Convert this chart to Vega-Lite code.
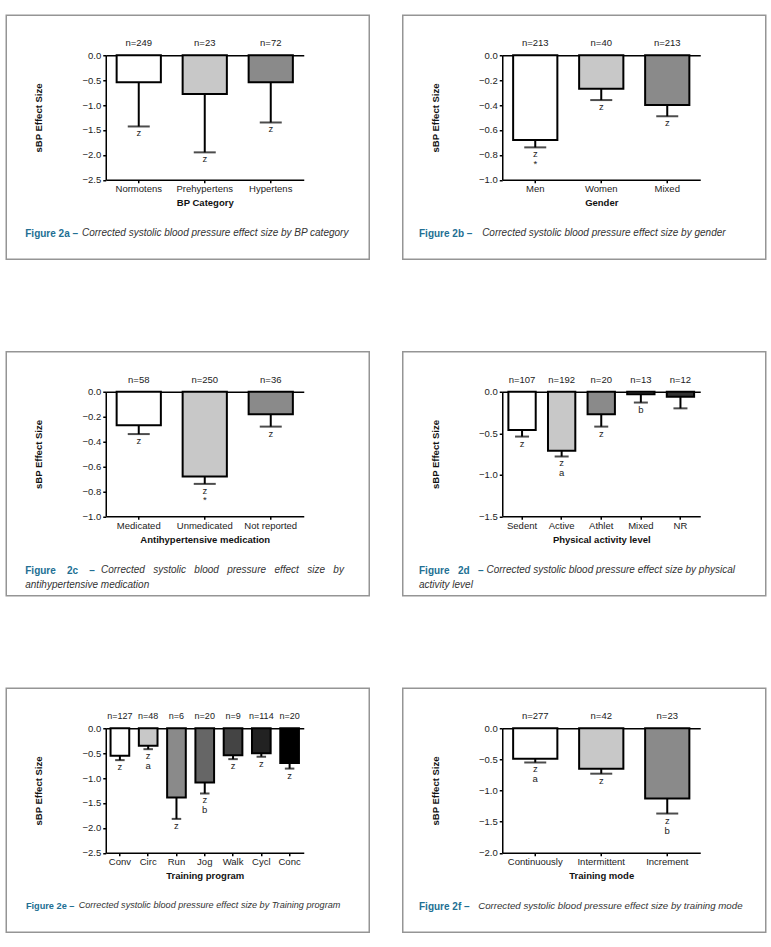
{
"$schema": "https://vega.github.io/schema/vega-lite/v6.json",
"background": "white",
"padding": {"left": 5.25, "top": 14.25, "right": 0, "bottom": 0},
"config": {
  "font": "Liberation Sans",
  "view": {"stroke": "#959595", "strokeWidth": 1.5},
  "axis": {"domainColor": "black", "domainWidth": 1.5, "tickColor": "black", "tickWidth": 1.5, "tickSize": 3, "labelFont": "Liberation Sans", "labelFontSize": 9.5, "labelColor": "#222", "titleFont": "Liberation Sans", "titleFontSize": 9.5, "titleFontWeight": "bold", "titleColor": "#111", "grid": false},
  "axisX": {"labelPadding": 1, "titlePadding": 4.5, "labelAngle": 0},
  "axisY": {"labelPadding": 2, "titlePadding": 38},
  "title": {"font": "Liberation Sans"}
},
"spacing": 90.5,
"resolve": {"scale": {"fill": "independent"}},
"vconcat": [
{"hconcat": [
 {"hconcat": [{
   "width": 363, "height": 244,
   "title": {"text": "Corrected systolic blood pressure effect size by BP category", "orient": "bottom", "anchor": "start", "frame": "bounds", "offset": -31, "dx": 75.75, "fontSize": 10, "fontStyle": "italic", "fontWeight": "normal", "color": "#333"},
   "data": {"values": [
     {"c": "Normotens", "v": -0.54, "e": -1.43, "n": "n=249", "lab": "z"},
     {"c": "Prehypertens", "v": -0.78, "e": -1.95, "n": "n=23", "lab": "z"},
     {"c": "Hypertens", "v": -0.54, "e": -1.35, "n": "n=72", "lab": "z"}
   ]},
   "layer": [
     {"mark": {"type": "bar", "stroke": "black", "strokeWidth": 2},
      "encoding": {
        "x": {"field": "c", "type": "nominal", "sort": null, "scale": {"range": [99.5, 297.5], "paddingInner": 0.33, "paddingOuter": 0.165}, "axis": {"orient": "bottom", "offset": -79.5, "title": "BP Category", "labelOverlap": false}},
        "y": {"field": "v", "type": "quantitative", "scale": {"domain": [-2.5, 0], "range": [164.5, 40], "nice": false, "zero": false}, "axis": {"orient": "left", "offset": -99.5, "title": "sBP Effect Size", "values": [0, -0.5, -1, -1.5, -2, -2.5], "format": ".1f", "grid": true, "gridColor": "black", "gridWidth": 1.5, "gridOpacity": {"condition": {"test": "datum.value === 0", "value": 1}, "value": 0}}},
        "fill": {"field": "c", "type": "nominal", "sort": null, "scale": {"range": ["#ffffff", "#c8c8c8", "#8a8a8a"]}, "legend": null}}},
     {"mark": {"type": "rule", "color": "black", "strokeWidth": 2},
      "encoding": {"x": {"field": "c", "type": "nominal", "sort": null}, "y": {"field": "v", "type": "quantitative"}, "y2": {"field": "e"}}},
     {"mark": {"type": "tick", "color": "black", "thickness": 2, "size": 22},
      "encoding": {"x": {"field": "c", "type": "nominal", "sort": null}, "y": {"field": "e", "type": "quantitative"}}},
     {"mark": {"type": "text", "baseline": "top", "dy": 2, "fontSize": 9.5, "color": "#222", "lineBreak": "\n", "lineHeight": 9.5},
      "encoding": {"x": {"field": "c", "type": "nominal", "sort": null}, "y": {"field": "e", "type": "quantitative"}, "text": {"field": "lab"}}},
     {"mark": {"type": "text", "baseline": "middle", "dy": -12, "fontSize": 9.5, "color": "#222"},
      "encoding": {"x": {"field": "c", "type": "nominal", "sort": null}, "y": {"datum": 0, "type": "quantitative"}, "text": {"field": "n"}}}
   ]}],
  "title": {"text": "Figure 2a –", "orient": "bottom", "anchor": "start", "frame": "bounds", "offset": -31, "dx": 19.75, "fontSize": 10, "fontWeight": "bold", "color": "#226f93"}
 },
 {"hconcat": [{
   "width": 363, "height": 244,
   "title": {"text": "Corrected systolic blood pressure effect size by gender", "orient": "bottom", "anchor": "start", "frame": "bounds", "offset": -31, "dx": 79.4, "fontSize": 10, "fontStyle": "italic", "fontWeight": "normal", "color": "#333"},
   "data": {"values": [
     {"c": "Men", "v": -0.68, "e": -0.74, "n": "n=213", "lab": "z\n*"},
     {"c": "Women", "v": -0.27, "e": -0.36, "n": "n=40", "lab": "z"},
     {"c": "Mixed", "v": -0.40, "e": -0.49, "n": "n=213", "lab": "z"}
   ]},
   "layer": [
     {"mark": {"type": "bar", "stroke": "black", "strokeWidth": 2},
      "encoding": {
        "x": {"field": "c", "type": "nominal", "sort": null, "scale": {"range": [99.5, 297.5], "paddingInner": 0.33, "paddingOuter": 0.165}, "axis": {"orient": "bottom", "offset": -79.5, "title": "Gender", "labelOverlap": false}},
        "y": {"field": "v", "type": "quantitative", "scale": {"domain": [-1, 0], "range": [164.5, 40], "nice": false, "zero": false}, "axis": {"orient": "left", "offset": -99.5, "title": "sBP Effect Size", "values": [0, -0.2, -0.4, -0.6, -0.8, -1], "format": ".1f", "grid": true, "gridColor": "black", "gridWidth": 1.5, "gridOpacity": {"condition": {"test": "datum.value === 0", "value": 1}, "value": 0}}},
        "fill": {"field": "c", "type": "nominal", "sort": null, "scale": {"range": ["#ffffff", "#c8c8c8", "#8a8a8a"]}, "legend": null}}},
     {"mark": {"type": "rule", "color": "black", "strokeWidth": 2},
      "encoding": {"x": {"field": "c", "type": "nominal", "sort": null}, "y": {"field": "v", "type": "quantitative"}, "y2": {"field": "e"}}},
     {"mark": {"type": "tick", "color": "black", "thickness": 2, "size": 22},
      "encoding": {"x": {"field": "c", "type": "nominal", "sort": null}, "y": {"field": "e", "type": "quantitative"}}},
     {"mark": {"type": "text", "baseline": "top", "dy": 2, "fontSize": 9.5, "color": "#222", "lineBreak": "\n", "lineHeight": 9.5},
      "encoding": {"x": {"field": "c", "type": "nominal", "sort": null}, "y": {"field": "e", "type": "quantitative"}, "text": {"field": "lab"}}},
     {"mark": {"type": "text", "baseline": "middle", "dy": -12, "fontSize": 9.5, "color": "#222"},
      "encoding": {"x": {"field": "c", "type": "nominal", "sort": null}, "y": {"datum": 0, "type": "quantitative"}, "text": {"field": "n"}}}
   ]}],
  "title": {"text": "Figure 2b –", "orient": "bottom", "anchor": "start", "frame": "bounds", "offset": -31, "dx": 17, "fontSize": 10, "fontWeight": "bold", "color": "#226f93"}
 }
], "spacing": 31.5, "resolve": {"scale": {"fill": "independent"}}},
{"hconcat": [
 {"hconcat": [{
   "width": 363, "height": 244,
   "title": {"text": "Corrected \u00a0\u00a0systolic \u00a0\u00a0blood \u00a0\u00a0pressure \u00a0\u00a0effect \u00a0\u00a0size \u00a0\u00a0by", "orient": "bottom", "anchor": "start", "frame": "bounds", "offset": -31, "dx": 94.75, "fontSize": 10, "fontStyle": "italic", "fontWeight": "normal", "color": "#333"},
   "data": {"values": [
     {"c": "Medicated", "v": -0.27, "e": -0.34, "n": "n=58", "lab": "z"},
     {"c": "Unmedicated", "v": -0.68, "e": -0.74, "n": "n=250", "lab": "z\n*"},
     {"c": "Not reported", "v": -0.18, "e": -0.28, "n": "n=36", "lab": "z"}
   ]},
   "layer": [
     {"mark": {"type": "bar", "stroke": "black", "strokeWidth": 2},
      "encoding": {
        "x": {"field": "c", "type": "nominal", "sort": null, "scale": {"range": [99.5, 297.5], "paddingInner": 0.33, "paddingOuter": 0.165}, "axis": {"orient": "bottom", "offset": -79.5, "title": "Antihypertensive medication", "labelOverlap": false}},
        "y": {"field": "v", "type": "quantitative", "scale": {"domain": [-1, 0], "range": [164.5, 40], "nice": false, "zero": false}, "axis": {"orient": "left", "offset": -99.5, "title": "sBP Effect Size", "values": [0, -0.2, -0.4, -0.6, -0.8, -1], "format": ".1f", "grid": true, "gridColor": "black", "gridWidth": 1.5, "gridOpacity": {"condition": {"test": "datum.value === 0", "value": 1}, "value": 0}}},
        "fill": {"field": "c", "type": "nominal", "sort": null, "scale": {"range": ["#ffffff", "#c8c8c8", "#8a8a8a"]}, "legend": null}}},
     {"mark": {"type": "rule", "color": "black", "strokeWidth": 2},
      "encoding": {"x": {"field": "c", "type": "nominal", "sort": null}, "y": {"field": "v", "type": "quantitative"}, "y2": {"field": "e"}}},
     {"mark": {"type": "tick", "color": "black", "thickness": 2, "size": 22},
      "encoding": {"x": {"field": "c", "type": "nominal", "sort": null}, "y": {"field": "e", "type": "quantitative"}}},
     {"mark": {"type": "text", "baseline": "top", "dy": 2, "fontSize": 9.5, "color": "#222", "lineBreak": "\n", "lineHeight": 9.5},
      "encoding": {"x": {"field": "c", "type": "nominal", "sort": null}, "y": {"field": "e", "type": "quantitative"}, "text": {"field": "lab"}}},
     {"mark": {"type": "text", "baseline": "middle", "dy": -12, "fontSize": 9.5, "color": "#222"},
      "encoding": {"x": {"field": "c", "type": "nominal", "sort": null}, "y": {"datum": 0, "type": "quantitative"}, "text": {"field": "n"}}}
   ]}],
  "title": {"text": "Figure \u00a0\u00a0\u00a02c \u00a0\u00a0\u00a0–", "subtitle": "antihypertensive medication", "orient": "bottom", "anchor": "start", "frame": "bounds", "offset": -31, "dx": 19.75, "fontSize": 10, "fontWeight": "bold", "color": "#226f93", "subtitleFontSize": 10, "subtitleFontStyle": "italic", "subtitleColor": "#333", "subtitlePadding": 4}
 },
 {"hconcat": [{
   "width": 363, "height": 244,
   "title": {"text": "Corrected systolic blood pressure effect size by physical", "orient": "bottom", "anchor": "start", "frame": "bounds", "offset": -31, "dx": 83.75, "fontSize": 10, "fontStyle": "italic", "fontWeight": "normal", "color": "#333"},
   "data": {"values": [
     {"c": "Sedent", "v": -0.46, "e": -0.54, "n": "n=107", "lab": "z"},
     {"c": "Active", "v": -0.71, "e": -0.78, "n": "n=192", "lab": "z\na"},
     {"c": "Athlet", "v": -0.27, "e": -0.42, "n": "n=20", "lab": "z"},
     {"c": "Mixed", "v": -0.03, "e": -0.13, "n": "n=13", "lab": "b"},
     {"c": "NR", "v": -0.06, "e": -0.20, "n": "n=12", "lab": ""}
   ]},
   "layer": [
     {"mark": {"type": "bar", "stroke": "black", "strokeWidth": 2},
      "encoding": {
        "x": {"field": "c", "type": "nominal", "sort": null, "scale": {"range": [99.5, 297.5], "paddingInner": 0.31, "paddingOuter": 0.155}, "axis": {"orient": "bottom", "offset": -79.5, "title": "Physical activity level", "labelOverlap": false}},
        "y": {"field": "v", "type": "quantitative", "scale": {"domain": [-1.5, 0], "range": [164.5, 40], "nice": false, "zero": false}, "axis": {"orient": "left", "offset": -99.5, "title": "sBP Effect Size", "values": [0, -0.5, -1, -1.5], "format": ".1f", "grid": true, "gridColor": "black", "gridWidth": 1.5, "gridOpacity": {"condition": {"test": "datum.value === 0", "value": 1}, "value": 0}}},
        "fill": {"field": "c", "type": "nominal", "sort": null, "scale": {"range": ["#ffffff", "#c8c8c8", "#8a8a8a", "#555555", "#333333"]}, "legend": null}}},
     {"mark": {"type": "rule", "color": "black", "strokeWidth": 2},
      "encoding": {"x": {"field": "c", "type": "nominal", "sort": null}, "y": {"field": "v", "type": "quantitative"}, "y2": {"field": "e"}}},
     {"mark": {"type": "tick", "color": "black", "thickness": 2, "size": 14},
      "encoding": {"x": {"field": "c", "type": "nominal", "sort": null}, "y": {"field": "e", "type": "quantitative"}}},
     {"mark": {"type": "text", "baseline": "top", "dy": 2, "fontSize": 9.5, "color": "#222", "lineBreak": "\n", "lineHeight": 10},
      "encoding": {"x": {"field": "c", "type": "nominal", "sort": null}, "y": {"field": "e", "type": "quantitative"}, "text": {"field": "lab"}}},
     {"mark": {"type": "text", "baseline": "middle", "dy": -12, "fontSize": 9.5, "color": "#222"},
      "encoding": {"x": {"field": "c", "type": "nominal", "sort": null}, "y": {"datum": 0, "type": "quantitative"}, "text": {"field": "n"}}}
   ]}],
  "title": {"text": "Figure \u00a0\u00a02d \u00a0\u00a0–", "subtitle": "activity level", "orient": "bottom", "anchor": "start", "frame": "bounds", "offset": -31, "dx": 17, "fontSize": 10, "fontWeight": "bold", "color": "#226f93", "subtitleFontSize": 10, "subtitleFontStyle": "italic", "subtitleColor": "#333", "subtitlePadding": 4}
 }
], "spacing": 31.5, "resolve": {"scale": {"fill": "independent"}}},
{"hconcat": [
 {"hconcat": [{
   "width": 363, "height": 244,
   "title": {"text": "Corrected systolic blood pressure effect size by Training program", "orient": "bottom", "anchor": "start", "frame": "bounds", "offset": -31, "dx": 72.4, "fontSize": 9.1, "fontStyle": "italic", "fontWeight": "normal", "color": "#333"},
   "data": {"values": [
     {"c": "Conv", "v": -0.55, "e": -0.64, "n": "n=127", "lab": "z"},
     {"c": "Circ", "v": -0.35, "e": -0.42, "n": "n=48", "lab": "z\na"},
     {"c": "Run", "v": -1.39, "e": -1.82, "n": "n=6", "lab": "z"},
     {"c": "Jog", "v": -1.09, "e": -1.31, "n": "n=20", "lab": "z\nb"},
     {"c": "Walk", "v": -0.54, "e": -0.62, "n": "n=9", "lab": "z"},
     {"c": "Cycl", "v": -0.50, "e": -0.57, "n": "n=114", "lab": "z"},
     {"c": "Conc", "v": -0.70, "e": -0.81, "n": "n=20", "lab": "z"}
   ]},
   "layer": [
     {"mark": {"type": "bar", "stroke": "black", "strokeWidth": 2},
      "encoding": {
        "x": {"field": "c", "type": "nominal", "sort": null, "scale": {"range": [99.5, 297.5], "paddingInner": 0.34, "paddingOuter": 0.17}, "axis": {"orient": "bottom", "offset": -79.5, "title": "Training program", "labelOverlap": false}},
        "y": {"field": "v", "type": "quantitative", "scale": {"domain": [-2.5, 0], "range": [164.5, 40], "nice": false, "zero": false}, "axis": {"orient": "left", "offset": -99.5, "title": "sBP Effect Size", "values": [0, -0.5, -1, -1.5, -2, -2.5], "format": ".1f", "grid": true, "gridColor": "black", "gridWidth": 1.5, "gridOpacity": {"condition": {"test": "datum.value === 0", "value": 1}, "value": 0}}},
        "fill": {"field": "c", "type": "nominal", "sort": null, "scale": {"range": ["#ffffff", "#c8c8c8", "#8a8a8a", "#666666", "#444444", "#222222", "#000000"]}, "legend": null}}},
     {"mark": {"type": "rule", "color": "black", "strokeWidth": 2},
      "encoding": {"x": {"field": "c", "type": "nominal", "sort": null}, "y": {"field": "v", "type": "quantitative"}, "y2": {"field": "e"}}},
     {"mark": {"type": "tick", "color": "black", "thickness": 2, "size": 9.5},
      "encoding": {"x": {"field": "c", "type": "nominal", "sort": null}, "y": {"field": "e", "type": "quantitative"}}},
     {"mark": {"type": "text", "baseline": "top", "dy": 2, "fontSize": 9.5, "color": "#222", "lineBreak": "\n", "lineHeight": 9.5},
      "encoding": {"x": {"field": "c", "type": "nominal", "sort": null}, "y": {"field": "e", "type": "quantitative"}, "text": {"field": "lab"}}},
     {"mark": {"type": "text", "baseline": "middle", "dy": -12, "fontSize": 9, "color": "#222"},
      "encoding": {"x": {"field": "c", "type": "nominal", "sort": null}, "y": {"datum": 0, "type": "quantitative"}, "text": {"field": "n"}}}
   ]}],
  "title": {"text": "Figure 2e –", "orient": "bottom", "anchor": "start", "frame": "bounds", "offset": -31, "dx": 20.4, "fontSize": 9.2, "fontWeight": "bold", "color": "#226f93"}
 },
 {"hconcat": [{
   "width": 363, "height": 244,
   "title": {"text": "Corrected systolic blood pressure effect size by training mode", "orient": "bottom", "anchor": "start", "frame": "bounds", "offset": -31, "dx": 75.4, "fontSize": 9.7, "fontStyle": "italic", "fontWeight": "normal", "color": "#333"},
   "data": {"values": [
     {"c": "Continuously", "v": -0.49, "e": -0.55, "n": "n=277", "lab": "z\na"},
     {"c": "Intermittent", "v": -0.65, "e": -0.73, "n": "n=42", "lab": "z"},
     {"c": "Increment", "v": -1.13, "e": -1.37, "n": "n=23", "lab": "z\nb"}
   ]},
   "layer": [
     {"mark": {"type": "bar", "stroke": "black", "strokeWidth": 2},
      "encoding": {
        "x": {"field": "c", "type": "nominal", "sort": null, "scale": {"range": [99.5, 297.5], "paddingInner": 0.33, "paddingOuter": 0.165}, "axis": {"orient": "bottom", "offset": -79.5, "title": "Training mode", "labelOverlap": false}},
        "y": {"field": "v", "type": "quantitative", "scale": {"domain": [-2, 0], "range": [164.5, 40], "nice": false, "zero": false}, "axis": {"orient": "left", "offset": -99.5, "title": "sBP Effect Size", "values": [0, -0.5, -1, -1.5, -2], "format": ".1f", "grid": true, "gridColor": "black", "gridWidth": 1.5, "gridOpacity": {"condition": {"test": "datum.value === 0", "value": 1}, "value": 0}}},
        "fill": {"field": "c", "type": "nominal", "sort": null, "scale": {"range": ["#ffffff", "#c8c8c8", "#8a8a8a"]}, "legend": null}}},
     {"mark": {"type": "rule", "color": "black", "strokeWidth": 2},
      "encoding": {"x": {"field": "c", "type": "nominal", "sort": null}, "y": {"field": "v", "type": "quantitative"}, "y2": {"field": "e"}}},
     {"mark": {"type": "tick", "color": "black", "thickness": 2, "size": 22},
      "encoding": {"x": {"field": "c", "type": "nominal", "sort": null}, "y": {"field": "e", "type": "quantitative"}}},
     {"mark": {"type": "text", "baseline": "top", "dy": 2, "fontSize": 9.5, "color": "#222", "lineBreak": "\n", "lineHeight": 10},
      "encoding": {"x": {"field": "c", "type": "nominal", "sort": null}, "y": {"field": "e", "type": "quantitative"}, "text": {"field": "lab"}}},
     {"mark": {"type": "text", "baseline": "middle", "dy": -12, "fontSize": 9.5, "color": "#222"},
      "encoding": {"x": {"field": "c", "type": "nominal", "sort": null}, "y": {"datum": 0, "type": "quantitative"}, "text": {"field": "n"}}}
   ]}],
  "title": {"text": "Figure 2f –", "orient": "bottom", "anchor": "start", "frame": "bounds", "offset": -31, "dx": 17, "fontSize": 10, "fontWeight": "bold", "color": "#226f93"}
 }
], "spacing": 31.5, "resolve": {"scale": {"fill": "independent"}}}
]
}
